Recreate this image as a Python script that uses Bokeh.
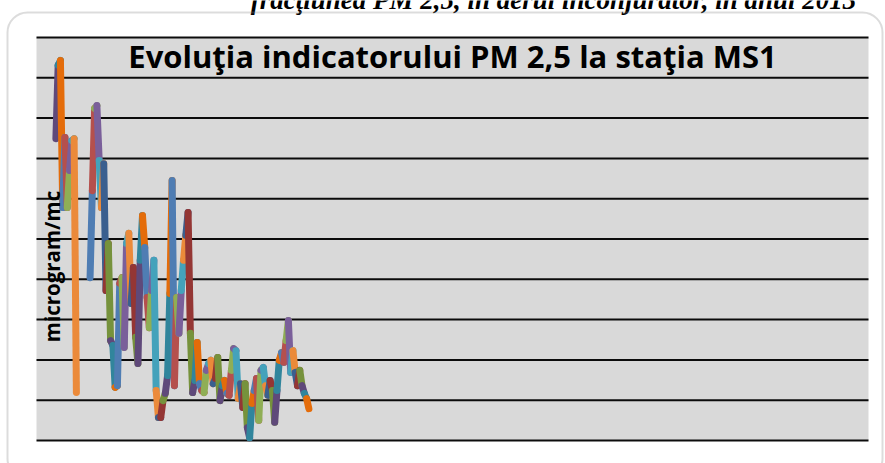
import math
from bokeh.plotting import figure
from bokeh.models import Range1d, Label, BoxAnnotation, ColumnDataSource
from bokeh.embed import file_html
from bokeh.resources import INLINE

# ---------------- data ----------------
title_text = "Evoluţia indicatorului PM 2,5 la staţia MS1"
y_label_text = "microgram/mc"
doc_caption = "fracţiunea PM 2,5, în aerul înconjurător, în anul 2013"

first_day = 9          # day of year of the first value
nan = float("nan")
pm25 = [
    74.9, 93.1, 94.3, 57.8, 75.2, 57.8, 67.0, 74.4, 74.9, 11.9,
    nan, nan, nan, nan, nan,
    40.4, 62.0, 82.4, 83.1, 69.5, 57.8, 68.7, 37.2, 48.9, 24.8,
    23.6, 13.2, 13.6, 39.0, 40.4, 23.1, 48.9, 51.4, 34.0, 42.9,
    25.6, 19.1, 44.7, 55.8, 47.9, 35.5, 28.0, 37.2, 44.7, 12.4,
    5.7, 5.7, 9.9, 11.7, 16.1, 36.5, 64.5, 13.6, 35.5, 26.6,
    37.2, 44.7, 50.9, 56.6, 26.6, 11.9, 14.9, 24.3, 14.1, 12.4,
    11.9, 17.4, 19.1, 19.9, 14.1, 15.4, 20.6, 9.9, 13.6, 14.9,
    11.7, 11.2, 17.4, 22.8, 22.3, 10.4, 14.1, 8.2, 14.1, 3.2,
    0.7, 9.2, 12.4, 15.4, 5.0, 17.4, 18.1, 13.6, 11.2, 14.9,
    12.4, 4.5, 12.4, 19.9, 21.8, 19.4, 24.8, 29.8, 16.9, 22.3,
    16.9, 13.6, 17.4, 13.6, 11.7, 10.4, 7.9,
]
days = list(range(first_day, first_day + len(pm25)))
y_ticks = [0, 10, 20, 30, 40, 50, 60, 70, 80, 90, 100]
day_min, day_max = 0.5, 365.5
y_min, y_max = 0, 100

palette = [
    "#3A5F8F", "#943634", "#76923C", "#5F497A", "#31859C", "#E46C0A",
    "#4F7DB3", "#B5504D", "#8FAE55", "#7A5F9A", "#44A2BB", "#EB8A3A",
]

# ---------------- layout geometry (pixels) ----------------
W, H = 885, 463
plot_left, plot_right, plot_top, plot_bottom = 36, 868, 37, 440
px_per_day = (plot_right - plot_left) / (day_max - day_min)
px_per_unit = (plot_bottom - plot_top) / (y_max - y_min)
x_start = day_min - plot_left / px_per_day
x_end = day_min + (W - plot_left) / px_per_day
y_start = y_min - (H - plot_bottom) / px_per_unit
y_end = y_min + plot_bottom / px_per_unit


def dx(px):
    return day_min + (px - plot_left) / px_per_day


def dy(py):
    return y_min + (plot_bottom - py) / px_per_unit


p = figure(width=W, height=H, output_backend="svg", toolbar_location=None,
           x_range=Range1d(x_start, x_end), y_range=Range1d(y_start, y_end),
           min_border=0)
p.min_border_left = 0
p.min_border_right = 0
p.min_border_top = 0
p.min_border_bottom = 0
p.xaxis.visible = False
p.yaxis.visible = False
p.xgrid.visible = False
p.ygrid.visible = False
p.background_fill_color = "white"
p.border_fill_color = "white"
p.outline_line_color = None

# plot area background
p.add_layout(BoxAnnotation(left=day_min, right=day_max, bottom=y_min, top=y_max,
                           fill_color="#D9D9D9", fill_alpha=1, line_color=None,
                           level="image"))

# horizontal gridlines, one per y tick, across the plot area only
p.segment(x0=[day_min] * len(y_ticks), x1=[day_max] * len(y_ticks),
          y0=y_ticks, y1=y_ticks, line_color="#000000", line_width=2,
          line_alpha=0.95)

x0, y0, x1, y1, cols = [], [], [], [], []
for k in range(len(pm25) - 1):
    a, b = pm25[k], pm25[k + 1]
    if math.isnan(a) or math.isnan(b):
        continue
    x0.append(days[k]); y0.append(a)
    x1.append(days[k + 1]); y1.append(b)
    cols.append(palette[(k + 3) % len(palette)])
src = ColumnDataSource(dict(x0=x0, y0=y0, x1=x1, y1=y1, c=cols))
p.segment(x0="x0", y0="y0", x1="x1", y1="y1", line_color="c", source=src,
          line_width=7, line_cap="round")

# chart border (rounded)
p.add_layout(BoxAnnotation(left=dx(7), right=dx(882), top=dy(12), bottom=dy(478),
                           fill_alpha=0, line_color="#8A8A8A", line_width=2,
                           border_radius=20, level="overlay"))

p.add_layout(Label(x=dx(452), y=dy(55), text=title_text, text_align="center",
                   text_baseline="alphabetic", text_font="Open Sans",
                   text_font_style="bold", text_font_size="31px",
                   text_color="#000000"))
p.add_layout(Label(x=dx(51), y=dy(266), text=y_label_text, angle=math.pi / 2,
                   text_align="center", text_baseline="middle",
                   text_font="Open Sans", text_font_style="bold",
                   text_font_size="20.5px", text_color="#000000"))
p.add_layout(Label(x=dx(553), y=dy(-1), text=doc_caption, text_align="center",
                   text_baseline="alphabetic", text_font="Liberation Serif",
                   text_font_style="bold italic", text_font_size="27px",
                   text_color="#000000"))

open("out.html", "w").write(file_html(p, INLINE))
